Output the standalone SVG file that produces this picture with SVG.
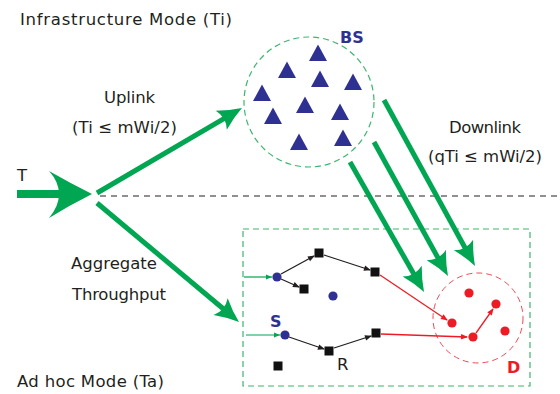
<svg xmlns="http://www.w3.org/2000/svg" width="560" height="394" viewBox="0 0 560 394">
<style>
  .t { font-family: "DejaVu Sans", "Liberation Sans", sans-serif; font-size: 16.5px; fill: #231F20; }
  .b { font-family: "DejaVu Sans", "Liberation Sans", sans-serif; font-weight: bold; font-size: 16px; }
  .big { stroke: #00A651; stroke-width: 5; fill: none; }
  .thinb { stroke: #231F20; stroke-width: 1.3; fill: none; }
  .thinr { stroke: #ED1C24; stroke-width: 1.3; fill: none; }
  .thing { stroke: #00A651; stroke-width: 1.2; fill: none; }
  .tri { fill: #2E3192; }
  .bdot { fill: #2E3192; }
  .rdot { fill: #ED1C24; }
  .sq { fill: #111111; }
</style>
<defs>
  <marker id="bigHead" markerUnits="userSpaceOnUse" markerWidth="40" markerHeight="40" refX="10" refY="0" orient="auto" overflow="visible">
    <path d="M24,0 Q12,-4 0,-11 Q6,0 0,11 Q12,4 24,0 Z" fill="#00A651"/>
  </marker>
  <marker id="hb" markerUnits="userSpaceOnUse" markerWidth="10" markerHeight="10" refX="6" refY="0" orient="auto" overflow="visible">
    <path d="M0,-2.8 L7,0 L0,2.8 Z" fill="#231F20"/>
  </marker>
  <marker id="hr" markerUnits="userSpaceOnUse" markerWidth="10" markerHeight="10" refX="6" refY="0" orient="auto" overflow="visible">
    <path d="M0,-2.8 L7,0 L0,2.8 Z" fill="#ED1C24"/>
  </marker>
  <marker id="hg" markerUnits="userSpaceOnUse" markerWidth="10" markerHeight="10" refX="6" refY="0" orient="auto" overflow="visible">
    <path d="M0,-2.5 L6,0 L0,2.5 Z" fill="#00A651"/>
  </marker>
  <path id="tri" d="M0,-8.5 L9,8 L-9,8 Z"/>
</defs>

<!-- mode divider -->
<line x1="100" y1="196" x2="560" y2="196" stroke="#231F20" stroke-width="1" stroke-dasharray="6,5"/>

<!-- labels -->
<g id="labels">
  <text class="t" x="20" y="25" textLength="212">Infrastructure Mode (Ti)</text>
  <text class="t" x="104" y="103" textLength="51">Uplink</text>
  <text class="t" x="72" y="133" textLength="105">(Ti ≤ mWi/2)</text>
  <text class="t" x="17" y="181">T</text>
  <text class="t" x="449" y="133" textLength="72">Downlink</text>
  <text class="t" x="428" y="162" textLength="114">(qTi ≤ mWi/2)</text>
  <text class="t" x="71" y="269" textLength="86">Aggregate</text>
  <text class="t" x="72" y="300" textLength="94">Throughput</text>
  <text class="t" x="17" y="387" textLength="147">Ad hoc Mode (Ta)</text>
</g>

<!-- BS node -->
<g id="bs">
  <circle cx="309" cy="102" r="65" fill="none" stroke="#3DB66F" stroke-width="1.2" stroke-dasharray="6,4"/>
  <text class="b" x="340" y="43" fill="#2E3192">BS</text>
  <use href="#tri" class="tri" x="318" y="53"/>
  <use href="#tri" class="tri" x="287" y="70"/>
  <use href="#tri" class="tri" x="320" y="79"/>
  <use href="#tri" class="tri" x="353" y="82"/>
  <use href="#tri" class="tri" x="262" y="93"/>
  <use href="#tri" class="tri" x="305" y="105"/>
  <use href="#tri" class="tri" x="273" y="116"/>
  <use href="#tri" class="tri" x="340" y="112"/>
  <use href="#tri" class="tri" x="299" y="142"/>
  <use href="#tri" class="tri" x="343" y="138"/>
</g>

<!-- source T -->
<g id="source">
  <rect x="17" y="190" width="44" height="8" fill="#00A651"/>
  <path d="M92,194 Q70,183 49,171 Q59,182 59,194 Q59,206 49,218 Q70,205 92,194 Z" fill="#00A651"/>
</g>

<!-- ad hoc area -->
<g id="adhoc">
  <rect x="243" y="229" width="287" height="157" fill="none" stroke="#3DB66F" stroke-width="1.2" stroke-dasharray="6,4"/>
</g>

<!-- D node -->
<g id="dest">
  <circle cx="478" cy="318" r="45" fill="none" stroke="#EF4B55" stroke-width="1" stroke-dasharray="6,4"/>
  <text class="b" x="507" y="373" fill="#ED1C24">D</text>
  <circle class="rdot" cx="469" cy="293" r="4.6"/>
  <circle class="rdot" cx="496" cy="304" r="4.6"/>
  <circle class="rdot" cx="452" cy="323" r="4.6"/>
  <circle class="rdot" cx="473" cy="337" r="4.6"/>
  <circle class="rdot" cx="505" cy="331" r="4.6"/>
</g>

<!-- ad hoc nodes -->
<g id="n1"><circle class="bdot" cx="277" cy="277" r="4.6"/></g>
<g id="n2"><rect class="sq" x="314.5" y="248.5" width="9" height="9"/></g>
<g id="n3"><rect class="sq" x="299.5" y="284.5" width="9" height="9"/></g>
<g id="n4"><circle class="bdot" cx="333" cy="296" r="4.6"/></g>
<g id="n5"><rect class="sq" x="370.5" y="267.5" width="9" height="9"/></g>
<g id="nS">
  <text class="b" x="270" y="327" fill="#2E3192">S</text>
  <circle class="bdot" cx="285" cy="335" r="4.6"/>
</g>
<g id="nR">
  <rect class="sq" x="324.5" y="346.5" width="9" height="9"/>
  <text class="t" x="337" y="370" font-size="15">R</text>
</g>
<g id="n6"><rect class="sq" x="371.5" y="328.5" width="9" height="9"/></g>
<g id="n7"><rect class="sq" x="273.5" y="361.5" width="9" height="9"/></g>

<!-- connectors -->
<g id="connectors">
  <line class="big" x1="97" y1="193" x2="229.9" y2="115.1" marker-end="url(#bigHead)"/>
  <line class="big" x1="97" y1="203" x2="228.3" y2="313" marker-end="url(#bigHead)"/>
  <line class="big" x1="384" y1="100" x2="468.3" y2="253.7" marker-end="url(#bigHead)"/>
  <line class="big" x1="374" y1="142" x2="441.2" y2="263.7" marker-end="url(#bigHead)"/>
  <line class="big" x1="350" y1="162" x2="417.1" y2="279.8" marker-end="url(#bigHead)"/>

  <line class="thing" x1="244" y1="277" x2="272" y2="277" marker-end="url(#hg)"/>
  <line class="thing" x1="246" y1="335" x2="280" y2="335" marker-end="url(#hg)"/>

  <line class="thinb" x1="281" y1="274" x2="314" y2="256" marker-end="url(#hb)"/>
  <line class="thinb" x1="281" y1="279" x2="299" y2="287" marker-end="url(#hb)"/>
  <line class="thinb" x1="324" y1="255" x2="370" y2="270" marker-end="url(#hb)"/>
  <line class="thinb" x1="289" y1="337" x2="324" y2="349" marker-end="url(#hb)"/>
  <line class="thinb" x1="334" y1="348" x2="371" y2="336" marker-end="url(#hb)"/>

  <line class="thinr" x1="380" y1="275" x2="447" y2="320" marker-end="url(#hr)"/>
  <line class="thinr" x1="381" y1="334" x2="467" y2="337" marker-end="url(#hr)"/>
  <line class="thinr" x1="476" y1="333" x2="493" y2="309" marker-end="url(#hr)"/>
</g>
</svg>
